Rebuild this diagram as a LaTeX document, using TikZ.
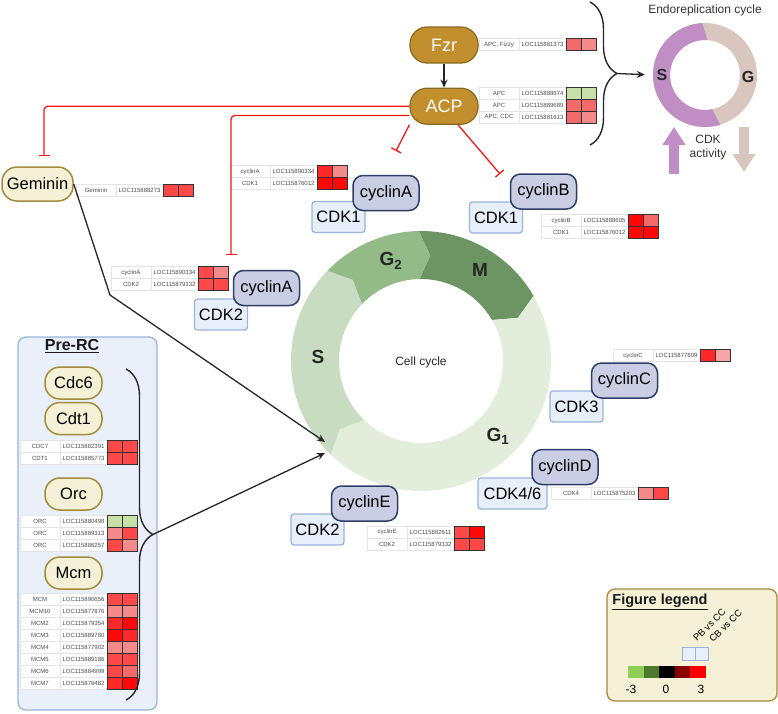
\documentclass[tikz,border=0pt]{standalone}
\usepackage{fontspec}
\setmainfont{Liberation Sans}
\usetikzlibrary{positioning,arrows.meta,decorations.pathreplacing}

\definecolor{goldfill}{HTML}{C28F2E}
\definecolor{golddraw}{HTML}{8A6820}
\definecolor{creamfill}{HTML}{F5F1D7}
\definecolor{creamdraw}{HTML}{A38C3C}
\definecolor{cycfill}{HTML}{C9CEE4}
\definecolor{cycdraw}{HTML}{2F3D68}
\definecolor{cdkfill}{HTML}{E7EFFA}
\definecolor{cdkdraw}{HTML}{9DB3DC}
\definecolor{prercfill}{HTML}{E9F0FA}
\definecolor{legdraw}{HTML}{A8893A}
\definecolor{phaseM}{HTML}{6C9563}
\definecolor{phaseGtwo}{HTML}{93BB88}
\definecolor{phaseS}{HTML}{C7DCC1}
\definecolor{phaseGone}{HTML}{E2EDDC}
\definecolor{endoS}{HTML}{C08EC4}
\definecolor{endoG}{HTML}{D9C6BE}
\definecolor{inhibred}{HTML}{F01818}
\definecolor{hgreen}{HTML}{C6E0A8}
\definecolor{hredA}{HTML}{FF0808}
\definecolor{hredB}{HTML}{FF2828}
\definecolor{hredC}{HTML}{FF4848}
\definecolor{hredD}{HTML}{F46A6A}
\definecolor{hredE}{HTML}{F58A8A}
\definecolor{hredF}{HTML}{F6A6A6}
\definecolor{legA}{HTML}{8FCF52}
\definecolor{legB}{HTML}{4F7A2D}
\definecolor{legC}{HTML}{000000}
\definecolor{legD}{HTML}{8B0000}
\definecolor{legE}{HTML}{FF0000}

\newcommand{\setsize}[1]{\fontsize{#1}{#1}\selectfont}
% one row of a gene table: name, placement, gene, locus, two colours
\newcommand{\generow}[6]{%
	\node[genecol,#2] (#1) {#3};
	\node[loccol,right=0pt of #1] (#1loc) {#4};
	\node[heat,fill=#5,right=0pt of #1loc] (#1pb) {};
	\node[heat,fill=#6,right=0pt of #1pb] (#1cb) {};
}
% one coloured piece of the cell cycle ring
\newcommand{\cyclephase}[3]{%
	\fill[#1] (#2:130) arc[start angle=#2,end angle=#3,radius=130] -- (#3-6:106)
		-- (#3:82) arc[start angle=#3,end angle=#2,radius=82] -- (#2-6:106) -- cycle;
}

\begin{document}
\begin{tikzpicture}[
		x=1pt,y=-1pt,
		>={Stealth[length=8pt,width=7pt]},
		goldpill/.style={draw=golddraw,fill=goldfill,line width=1.2pt,rounded corners=17pt,
			minimum width=68pt,minimum height=36pt,inner sep=1pt,text=white,font=\setsize{18}},
		creampill/.style={draw=creamdraw,fill=creamfill,line width=1.5pt,rounded corners=15pt,
			minimum width=57pt,minimum height=32pt,inner sep=1pt,font=\setsize{16.5}},
		cyclin/.style={draw=cycdraw,fill=cycfill,line width=1.5pt,rounded corners=10pt,
			minimum width=66pt,minimum height=35pt,inner sep=1pt,font=\setsize{16.5}},
		cdk/.style={draw=cdkdraw,fill=cdkfill,line width=1.3pt,rounded corners=3pt,
			minimum width=53pt,minimum height=31pt,inner sep=1pt,font=\setsize{16.5}},
		genecol/.style={minimum width=40pt,minimum height=12pt,inner sep=0pt,outer sep=0pt,
			draw=black!10,fill=white,text=black!70,font=\setsize{6}},
		loccol/.style={genecol,minimum width=47pt},
		heat/.style={minimum width=15pt,minimum height=12pt,inner sep=0pt,outer sep=0pt,
			draw=black!80,line width=0.5pt},
		phaselabel/.style={font=\bfseries\setsize{19},text=black!85},
		fwd/.style={->,line width=1.3pt,black!85},
		inhib/.style={-{Bar[width=11pt]},draw=inhibred,line width=1.3pt,rounded corners=4pt},
		curly/.style={decorate,decoration={brace,amplitude=27pt},line width=1.4pt,black!85},
		comparison/.style={rotate=45,anchor=base west,inner sep=0pt,font=\setsize{9.5}},
	]
	\useasboundingbox (0,0) rectangle (778,713);

	% boxes in the back
	\node[draw=cdkdraw,fill=prercfill,line width=1.3pt,rounded corners=8pt,
		minimum width=139pt,minimum height=373pt] (prerc) at (87.5,523.5) {};
	\node[draw=legdraw,fill=creamfill,line width=1.3pt,rounded corners=8pt,
		minimum width=170pt,minimum height=112pt] (legend) at (692,645) {};

	% cell cycle ring
	\begin{scope}[shift={(421,361)},yscale=-1]
		\cyclephase{phaseM}{91}{30}
		\cyclephase{phaseGone}{30}{-134}
		\cyclephase{phaseS}{226}{136}
		\cyclephase{phaseGtwo}{136}{91}
	\end{scope}
	\node[font=\setsize{12},text=black!85] (cellcycle) at (421,362) {Cell cycle};
	\node[phaselabel] (phs) at (318,357) {S};
	\node[phaselabel] (phgtwo) at (391,261) {G\textsubscript{2}};
	\node[phaselabel] (phm) at (480,270) {M};
	\node[phaselabel] (phgone) at (498,436) {G\textsubscript{1}};

	% endoreplication cycle
	\node[font=\setsize{12},text=black!80] (endotitle) at (705,10) {Endoreplication cycle};
	\begin{scope}[shift={(705,75)},yscale=-1]
		\fill[endoG,even odd rule] (0,0) circle[radius=52] (0,0) circle[radius=35];
		\fill[endoS] (93:52) arc[start angle=93,end angle=287,radius=52] -- (282:35)
			arc[start angle=282,end angle=86,radius=35] -- cycle;
	\end{scope}
	\node[circle,minimum size=104pt,inner sep=0pt] (endo) at (705,75) {};
	\node[font=\bfseries\setsize{16},text=black!85] (endos) at (662,75) {S};
	\node[font=\bfseries\setsize{16},text=black!85] (endog) at (748,77) {G};
	\coordinate (upfoot) at (674,174);
	\coordinate (uphead) at (674,127);
	\coordinate (downtop) at (744,127);
	\coordinate (downhead) at (744,172);
	\draw[line width=10pt,endoS,-{Triangle[width=22pt,length=18pt]}] (upfoot) -- (uphead);
	\draw[line width=10pt,endoG,-{Triangle[width=22pt,length=18pt]}] (downtop) -- (downhead);
	\node[align=center,font=\setsize{12},text=black!80] (cdkact) at (708,148) {CDK\\[2pt]activity};

	% APC side at the top
	\node[goldpill] (fzr) at (444,45) {Fzr};
	\node[goldpill] (acp) [below=24pt of fzr] {ACP};
	\generow{rfzr}{anchor=west,at={(479,44.5)}}{APC, Fizzy}{LOC115881373}{hredD}{hredE}
	\generow{rapcA}{anchor=west,at={(479,93)}}{APC}{LOC115888674}{hgreen}{hgreen}
	\generow{rapcB}{below=0pt of rapcA}{APC}{LOC115889689}{hredD}{hredD}
	\generow{rapcC}{below=0pt of rapcB}{APC, CDC}{LOC115881613}{hredD}{hredE}
	\draw[curly] (590,2) -- (590,145);
	\coordinate (apctip) at (617,73.5);

	% geminin
	\node[creampill,minimum width=71pt,minimum height=34pt] (gem) at (37.5,184) {Geminin};
	\generow{rgem}{anchor=west,at={(76,190)}}{Geminin}{LOC115888273}{hredC}{hredC}

	% cyclin and CDK complexes
	\node[cdk] (cdkAone) at (338.5,217) {CDK1};
	\node[cyclin] (cycAone) at (386,193) {cyclinA};
	\generow{rcycAone}{anchor=west,at={(230,171.5)}}{cyclinA}{LOC115890334}{hredB}{hredE}
	\generow{rcdkAone}{below=0pt of rcycAone}{CDK1}{LOC115876012}{hredA}{hredA}

	\node[cdk] (cdkB) at (496,217.5) {CDK1};
	\node[cyclin] (cycB) at (543.5,191.5) {cyclinB};
	\generow{rcycB}{anchor=west,at={(541,220.5)}}{cyclinB}{LOC115888605}{hredA}{hredD}
	\generow{rcdkB}{below=0pt of rcycB}{CDK1}{LOC115876012}{hredA}{hredA}

	\node[cdk] (cdkAtwo) at (221,314.5) {CDK2};
	\node[cyclin] (cycAtwo) at (266.5,288) {cyclinA};
	\generow{rcycAtwo}{anchor=west,at={(111,272.5)}}{cyclinA}{LOC115890334}{hredC}{hredE}
	\generow{rcdkAtwo}{below=0pt of rcycAtwo}{CDK2}{LOC115879332}{hredC}{hredC}

	\node[cdk] (cdkC) at (576.5,406.5) {CDK3};
	\node[cyclin] (cycC) at (624.5,380.5) {cyclinC};
	\generow{rcycC}{anchor=west,at={(613,355.5)}}{cyclinC}{LOC115877809}{hredB}{hredF}

	\node[cdk,minimum width=69pt] (cdkD) at (512.5,493.5) {CDK4/6};
	\node[cyclin] (cycD) at (565,467) {cyclinD};
	\generow{rcdkD}{anchor=west,at={(551,493.5)}}{CDK4}{LOC115875203}{hredE}{hredC}

	\node[cdk] (cdkE) at (317.5,529.5) {CDK2};
	\node[cyclin] (cycE) at (364.5,503.5) {cyclinE};
	\generow{rcycE}{anchor=west,at={(367,532)}}{cyclinE}{LOC115882611}{hredC}{hredA}
	\generow{rcdkE}{below=0pt of rcycE}{CDK2}{LOC115879332}{hredC}{hredC}

	% pre-replication complex
	\node[font=\bfseries\setsize{16},text=black!90] (prerctitle) at (72,346) {\underline{Pre-RC}};
	\node[creampill] (cdc6) at (73.5,383) {Cdc6};
	\node[creampill] (cdt1) [below=2pt of cdc6] {Cdt1};
	\generow{rcdc7}{anchor=west,at={(20,446.5)}}{CDC7}{LOC115882391}{hredC}{hredC}
	\generow{rcdt1}{below=0pt of rcdc7}{CDT1}{LOC115885773}{hredC}{hredC}
	\node[creampill] (orc) at (73.5,494) {Orc};
	\generow{rorcA}{anchor=west,at={(20,521)}}{ORC}{LOC115880498}{hgreen}{hgreen}
	\generow{rorcB}{below=0pt of rorcA}{ORC}{LOC115889313}{hredE}{hredC}
	\generow{rorcC}{below=0pt of rorcB}{ORC}{LOC115886257}{hredC}{hredE}
	\node[creampill] (mcm) at (73.5,573) {Mcm};
	\generow{rmcm}{anchor=west,at={(20,599)}}{MCM}{LOC115890656}{hredC}{hredC}
	\generow{rmcmten}{below=0pt of rmcm}{MCM10}{LOC115877876}{hredE}{hredE}
	\generow{rmcmtwo}{below=0pt of rmcmten}{MCM2}{LOC115879354}{hredB}{hredA}
	\generow{rmcmthree}{below=0pt of rmcmtwo}{MCM3}{LOC115889780}{hredA}{hredB}
	\generow{rmcmfour}{below=0pt of rmcmthree}{MCM4}{LOC115877902}{hredE}{hredE}
	\generow{rmcmfive}{below=0pt of rmcmfour}{MCM5}{LOC115889186}{hredC}{hredC}
	\generow{rmcmsix}{below=0pt of rmcmfive}{MCM6}{LOC115884999}{hredC}{hredD}
	\generow{rmcmseven}{below=0pt of rmcmsix}{MCM7}{LOC115876482}{hredB}{hredA}
	\draw[curly] (126,369) -- (126,700);
	\coordinate (prerctip) at (153,534.5);

	% figure legend
	\node[font=\bfseries\setsize{14.5},text=black!90] (legtitle) at (660,602) {\underline{Figure legend}};
	\node[heat,fill=cdkfill,draw=cdkdraw,line width=1pt,minimum width=13pt,minimum height=13pt] (legpb) at (688.5,653.5) {};
	\node[heat,fill=cdkfill,draw=cdkdraw,line width=1pt,minimum width=13pt,minimum height=13pt,right=0pt of legpb] (legcb) {};
	\node[comparison] (pbcc) at (697,642) {PB vs CC};
	\node[comparison] (cbcc) at (713,643) {CB vs CC};
	\foreach \c [count=\i] in {legA,legB,legC,legD,legE}
		\node[heat,fill=\c,draw=none,minimum width=15.6pt] (bar\i) at ({628+15.6*(\i-0.5)},672) {};
	\node[font=\setsize{12}] (barlow) at (631,689) {-3};
	\node[font=\setsize{12}] (barmid) at (666,689) {0};
	\node[font=\setsize{12}] (barhigh) at (701,689) {3};

	% draw the connection lines
	\coordinate (gembend) at (110,295);
	\coordinate (sentryA) at (325,442);
	\coordinate (sentryB) at (325,453);
	\coordinate (gemstop) at (44,156);
	\coordinate (cdktwostop) at (231,255);
	\coordinate (cdkonestop) at (396,151);
	\coordinate (cdkbstop) at (500,174);
	\draw[fwd] (fzr) -- (acp);
	\draw[fwd,shorten >=8pt] (apctip) -- (endo.west);
	\draw[fwd] (gem.east) -- (gembend) -- (sentryA);
	\draw[fwd] (prerctip) -- (sentryB);
	\draw[inhib] (acp.west) -| (gemstop);
	\draw[inhib] (acp.195) -| (cdktwostop);
	\draw[inhib] (acp.south west) -- (cdkonestop);
	\draw[inhib] ([xshift=14pt]acp.south) -- (cdkbstop);
\end{tikzpicture}
\end{document}
